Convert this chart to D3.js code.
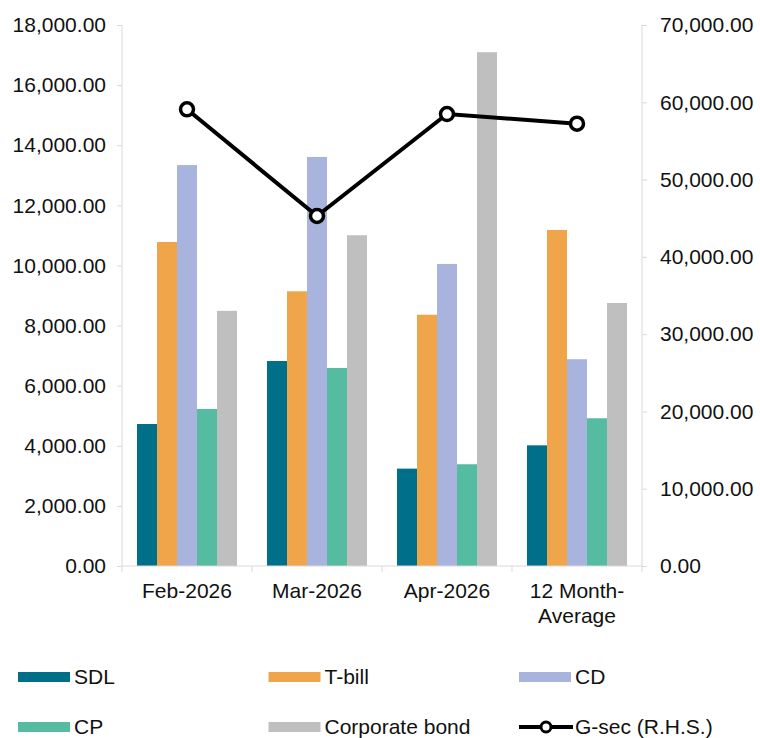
<!DOCTYPE html>
<html>
<head>
<meta charset="utf-8">
<script src="https://cdn.jsdelivr.net/npm/d3@7"></script>
<style>
  body { margin: 0; background: #fff; }
  svg { display: block; font-family: "Liberation Sans", Arial, sans-serif; }
  .axis path, .axis line { stroke: #d9d9d9; }
</style>
</head>
<body>
<svg id="chart" width="760" height="738"></svg>
<script>
const categories = ["Feb-2026", "Mar-2026", "Apr-2026", "12 Month-Average"];
const sdl = [4725, 6820, 3240, 4015];
const tbill = [10780, 9140, 8360, 11180];
const cd = [13340, 13610, 10050, 6880];
const cp = [5225, 6590, 3385, 4915];
const corpBond = [8490, 11005, 17095, 8750];
const gsec = [59090, 45285, 58480, 57230];
const leftTicks = d3.range(0, 18001, 2000);
const rightTicks = d3.range(0, 70001, 10000);

const barSeries = [
    {name: "SDL", values: sdl, color: "#006f89"},
    {name: "T-bill", values: tbill, color: "#f0a54b"},
    {name: "CD", values: cd, color: "#a9b4de"},
    {name: "CP", values: cp, color: "#55bba1"},
    {name: "Corporate bond", values: corpBond, color: "#bfbfbf"}
];

const fontSize = 21;
const padding = {top: 25, right: 118, bottom: 172, left: 122};
const width = 760, height = 738;
const innerWidth = width - padding.left - padding.right;
const innerHeight = height - padding.top - padding.bottom;

const svg = d3.select("#chart");
const g = svg.append("g").attr("transform", `translate(${padding.left}, ${padding.top})`);

const x = d3.scaleBand().domain(categories).range([0, innerWidth]).paddingInner(0).paddingOuter(0);
const x1 = d3.scaleBand().domain(barSeries.map(d => d.name)).range([15, x.bandwidth() - 15]).padding(0);
const yL = d3.scaleLinear().domain([0, 18000]).range([innerHeight, 0]);
const yR = d3.scaleLinear().domain([0, 70000]).range([innerHeight, 0]);

const fmt = d3.format(",.2f");

// bars
const groups = g.selectAll(".cat")
    .data(categories)
    .enter()
    .append("g")
    .attr("transform", d => `translate(${x(d)}, 0)`);

groups.each(function (cat, i) {
    d3.select(this).selectAll("rect")
        .data(barSeries)
        .enter()
        .append("rect")
        .attr("x", s => x1(s.name))
        .attr("width", x1.bandwidth())
        .attr("y", s => yL(s.values[i]))
        .attr("height", s => yL(0) - yL(s.values[i]))
        .attr("fill", s => s.color);
});

// axes
const leftAxis = g.append("g").attr("class", "axis")
    .call(d3.axisLeft(yL).tickValues(leftTicks).tickFormat(fmt).tickSize(5).tickPadding(11));
const rightAxis = g.append("g").attr("class", "axis")
    .attr("transform", `translate(${innerWidth}, 0)`)
    .call(d3.axisRight(yR).tickValues(rightTicks).tickFormat(fmt).tickSize(5).tickPadding(13));
[leftAxis, rightAxis].forEach(a => {
    a.attr("font-size", null).attr("font-family", null);
    a.select(".domain").attr("d", `M0,0V${innerHeight}`);
    a.selectAll("text").attr("font-size", fontSize).attr("fill", "#111");
});

const xAxis = g.append("g").attr("class", "axis")
    .attr("transform", `translate(0, ${innerHeight})`);
xAxis.append("line").attr("x1", 0).attr("x2", innerWidth).attr("y1", 0).attr("y2", 0);
xAxis.selectAll(".tk")
    .data(d3.range(categories.length + 1))
    .enter()
    .append("line")
    .attr("x1", i => i * x.bandwidth())
    .attr("x2", i => i * x.bandwidth())
    .attr("y1", 0)
    .attr("y2", 6);
xAxis.selectAll(".lbl")
    .data(categories)
    .enter()
    .append("text")
    .attr("text-anchor", "middle")
    .attr("font-size", fontSize)
    .attr("fill", "#111")
    .attr("x", d => x(d) + x.bandwidth() / 2)
    .attr("y", 32)
    .each(function (d) {
        const parts = d === "12 Month-Average" ? ["12 Month-", "Average"] : [d];
        parts.forEach((p, k) => {
            d3.select(this).append("tspan")
                .attr("x", x(d) + x.bandwidth() / 2)
                .attr("dy", k === 0 ? 0 : 25)
                .text(p);
        });
    });

// G-sec line on right axis
const line = d3.line()
    .x((d, i) => x(categories[i]) + x.bandwidth() / 2)
    .y(d => yR(d));
g.append("path")
    .datum(gsec)
    .attr("d", line)
    .attr("fill", "none")
    .attr("stroke", "#000")
    .attr("stroke-width", 4);
g.selectAll(".pt")
    .data(gsec)
    .enter()
    .append("circle")
    .attr("cx", (d, i) => x(categories[i]) + x.bandwidth() / 2)
    .attr("cy", d => yR(d))
    .attr("r", 6.5)
    .attr("fill", "#fff")
    .attr("stroke", "#000")
    .attr("stroke-width", 3.5);

// legend
const legendItems = barSeries.map(s => ({name: s.name, color: s.color, type: "bar"}))
    .concat([{name: "G-sec (R.H.S.)", color: "#000", type: "line"}]);
const legend = svg.append("g");
const lg = legend.selectAll(".li")
    .data(legendItems)
    .enter()
    .append("g")
    .attr("transform", (d, i) => `translate(${18 + (i % 3) * 250.5}, ${677 + Math.floor(i / 3) * 50})`);
lg.filter(d => d.type === "bar").append("rect")
    .attr("x", 0).attr("y", -5).attr("width", 52).attr("height", 10)
    .attr("fill", d => d.color);
lg.filter(d => d.type === "line").append("line")
    .attr("x1", 0).attr("x2", 54).attr("y1", 0).attr("y2", 0)
    .attr("stroke", "#000").attr("stroke-width", 4);
lg.filter(d => d.type === "line").append("circle")
    .attr("cx", 27).attr("cy", 0).attr("r", 5)
    .attr("fill", "#fff").attr("stroke", "#000").attr("stroke-width", 3);
lg.append("text")
    .attr("x", 56)
    .attr("dy", "0.35em")
    .attr("font-size", fontSize)
    .attr("fill", "#111")
    .text(d => d.name);
</script>
</body>
</html>
